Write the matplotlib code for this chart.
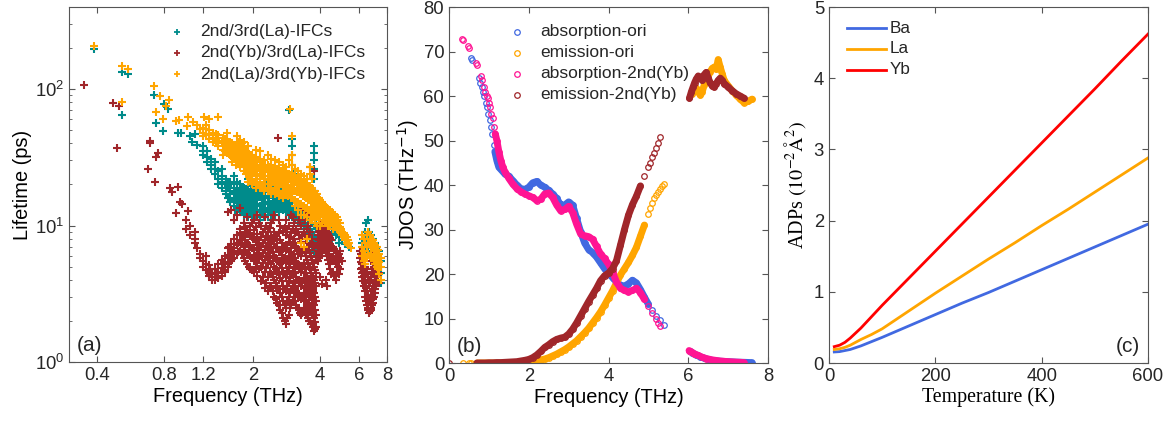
import numpy as np
import matplotlib
matplotlib.use("Agg")
import matplotlib.pyplot as plt
from matplotlib.ticker import FixedLocator, NullLocator, FixedFormatter, LogLocator

plt.rcParams['font.family'] = ['Liberation Sans', 'DejaVu Sans']
plt.rcParams['text.color'] = '#262626'

# ---------------- (a) lifetime scatter ----------------
# each entry: (frequency THz, [lifetimes ps])
teal_cols = [
    (0.39, [197]), (0.52, [133, 65]), (0.55, [130]), (0.72, [90]), (0.74, [56]),
    (0.79, [49]), (0.80, [78]), (0.83, [71]), (0.92, [48]), (0.95, [48]),
    (1.05, [45]), (1.07, [41]), (1.10, [47]), (1.13, [39]),
    (1.20, [35, 38, 33]), (1.25, [32, 29, 35]), (1.30, [28, 26, 31]),
    (1.35, [26, 24, 29]), (1.40, [22, 25, 20]), (1.46, [21, 23, 19, 26]),
    (1.52, [20, 22, 18, 17]), (1.55, [19.5, 16, 21]), (1.58, [19, 21, 17, 15]),
    (1.64, [18, 20, 16, 14, 23]), (1.67, [17.5, 15.5, 13]),
    (1.70, [17, 19, 15, 13.5, 21]), (1.76, [16, 18, 14, 12.5, 20]),
    (1.79, [16.5, 14.5, 13, 18.5]), (1.82, [15.5, 17.5, 13.5, 12, 19]),
    (1.86, [15, 13, 16.5, 18]), (1.90, [15, 17, 13, 11.5, 19.5, 22]),
    (1.94, [14.5, 12.5, 16, 17.5]), (1.98, [15, 16.5, 13.5, 12, 18, 20]),
    (2.02, [14.8, 13, 16.5, 19]), (2.06, [14.5, 16, 13, 11.5, 18.5, 21]),
    (2.10, [14, 12, 15.5, 17]), (2.15, [14, 16.5, 12.5, 11, 18, 20]),
    (2.19, [14.5, 12.5, 16, 17.5]), (2.24, [14.5, 16, 13, 11.5, 17.5, 19.5]),
    (2.28, [15, 13, 16.5, 18.5]), (2.33, [15, 16.5, 13.5, 12, 18, 21]),
    (2.37, [14.5, 12.5, 16, 18]), (2.42, [14.5, 17, 13, 11, 19, 22]),
    (2.47, [15, 13, 16.5, 19.5]), (2.52, [15, 16.5, 13.5, 12, 18.5]),
    (2.57, [15.5, 13.5, 17, 18.5]), (2.62, [15.5, 17, 14, 12.5, 19]),
    (2.67, [15.5, 13.5, 17, 19.5]), (2.72, [16, 18, 14.5, 13, 20]),
    (2.77, [15, 13.5, 16.5, 18.5]), (2.82, [15.5, 17.5, 14, 12.5, 19]),
    (2.87, [14.5, 13, 16, 18]), (2.92, [15, 17, 13.5, 12, 70]),
    (3.00, [14, 16, 12.5, 43, 38, 33, 28]), (3.05, [24, 20, 18]),
    (3.10, [13.5, 15, 12, 11]), (3.15, [13, 11.5, 14]), (3.20, [13, 14.5, 11.5, 10.5]),
    (3.25, [12.5, 11, 13.5]), (3.30, [12.5, 14, 11, 10]), (3.35, [12, 10.5, 13]),
    (3.40, [12, 13.5, 10.5, 9.5]), (3.45, [11.5, 10, 12.5]),
    (3.50, [11.5, 13, 10, 9, 8]), (3.55, [11, 9.5, 12]), (3.60, [11, 12.5, 9.5, 8.5, 7.5]),
    (3.65, [10.5, 9, 11.5]), (3.70, [10.5, 12, 9, 8, 7]),
    (3.75, [38, 34, 30, 26, 22, 18, 15]),
    (3.78, [10, 11.5, 8.5, 7.5, 6.5]), (3.86, [9.5, 11, 8, 7, 6.3]),
    (3.95, [9.8, 11, 8.5, 7.2, 6.4]), (4.10, [9.5, 10.5, 8.5, 7]),
    (4.25, [9.2, 10.2, 8.2]), (4.40, [9.0, 9.8, 8.0]), (4.55, [8.8, 9.6, 7.8]),
    (4.70, [8.5, 9.2]), (4.85, [8.2, 8.8, 7.5]), (5.00, [7.8, 8.3]),
    (5.20, [7.3, 7.8]), (5.40, [7.0]),
    (6.15, [7.5, 6.5]), (6.25, [8.0, 7.0, 6.0]), (6.35, [9.0, 7.5]),
    (6.45, [10.5, 8.0, 6.5]), (6.55, [11, 8.5, 7.0]), (6.65, [9.0, 7.5]),
    (6.75, [8.5, 7.0, 6.0]), (6.90, [8.0, 6.5]), (7.05, [7.5, 6.0]),
    (7.20, [7.0, 5.5]), (7.35, [6.5, 5.0]), (7.50, [5.5, 4.5, 3.8]),
]

red_cols = [
    (0.35, [107]), (0.47, [79]), (0.49, [37]), (0.50, [75]), (0.68, [26]),
    (0.69, [42, 40]), (0.73, [21]), (0.74, [32]), (0.75, [34]), (0.85, [19]),
    (0.87, [17.5]), (0.91, [12.4]), (0.92, [19.3]), (0.94, [14.8]), (0.96, [14.5]),
    (1.00, [11, 9.5]), (1.02, [12.7]), (1.05, [10, 8.5]), (1.10, [8, 7.5, 9]),
    (1.13, [6.8]), (1.16, [6.2, 5.8]), (1.20, [5.5, 5.0]), (1.23, [5.2, 4.7, 6.0]),
    (1.27, [4.6, 4.3, 5.1]), (1.28, [4.4, 4.8]), (1.31, [4.2, 4.5, 4.0]),
    (1.35, [4.0, 4.4, 4.8]), (1.38, [4.2, 4.5]), (1.40, [4.1, 4.6, 5.2]),
    (1.45, [4.3, 4.9, 5.6]), (1.48, [4.7, 5.4]), (1.50, [4.6, 5.2, 6.0]),
    (1.55, [5.0, 5.8, 6.8, 12.5]), (1.57, [5.3, 6.1, 7.0]), (1.60, [5.5, 6.3, 7.3, 13]),
    (1.62, [5.7, 6.5]), (1.65, [5.8, 6.8, 8.0, 11]), (1.70, [6.2, 7.2, 8.5, 12]),
    (1.72, [6.4, 7.5]), (1.76, [6.5, 7.8, 8.8, 9.5, 13.5]), (1.79, [6.2, 7.4, 8.5]),
    (1.82, [5.8, 7.0, 8.2, 10.5]), (1.85, [5.5, 6.6, 7.9, 9.7]),
    (1.88, [5.2, 6.3, 7.5, 9.0, 11.5]), (1.92, [5.0, 6.1, 7.2, 8.8]),
    (1.95, [4.8, 6.0, 7.0, 8.4, 10.0]), (1.99, [4.7, 5.8, 6.8, 8.2, 10.5]),
    (2.02, [4.6, 5.5, 6.6, 8.0, 9.3, 11]), (2.06, [5.0, 6.0, 7.6, 9.8]),
    (2.10, [4.3, 5.3, 6.2, 7.2, 8.7, 12]), (2.14, [4.8, 5.7, 6.6, 7.9, 10.5]),
    (2.18, [3.9, 5.0, 6.0, 7.0, 8.2, 10]), (2.22, [4.2, 5.3, 6.3, 7.4, 8.9]),
    (2.26, [3.5, 4.6, 5.6, 6.6, 7.8, 9.5, 11.5]), (2.30, [3.8, 4.9, 5.9, 7.1, 8.4, 10]),
    (2.34, [3.3, 4.2, 5.3, 6.3, 7.5, 9.0]), (2.38, [3.5, 4.6, 5.8, 7.0, 8.0, 9.6]),
    (2.42, [3.6, 4.4, 5.2, 6.8, 8.3, 10.5]), (2.46, [3.3, 4.2, 5.5, 6.4, 7.7, 11]),
    (2.50, [3.0, 4.0, 5.0, 6.0, 7.3, 9.0, 12]), (2.54, [2.9, 3.8, 4.8, 5.8, 7.0, 8.6]),
    (2.58, [2.7, 3.5, 4.6, 5.6, 6.8, 8.0]), (2.60, [44]),
    (2.62, [2.6, 3.4, 4.4, 5.4, 6.6, 8.8, 11]), (2.66, [2.4, 3.2, 4.1, 5.2, 6.4, 7.8, 10]),
    (2.70, [2.3, 3.0, 3.9, 4.9, 6.1, 7.4]), (2.74, [2.1, 2.8, 3.6, 4.6, 5.8, 7.0, 9.2]),
    (2.78, [2.0, 2.6, 3.4, 4.4, 5.6, 6.9, 9.6]),
    (2.82, [1.9, 2.5, 3.3, 4.2, 5.3, 6.6, 8.5, 11]), (2.86, [2.1, 2.8, 3.6, 4.6, 5.7, 7.2, 9]),
    (2.90, [2.2, 3.0, 3.9, 5.0, 6.0, 7.6, 10]), (2.94, [2.5, 3.2, 4.1, 5.2, 6.4, 8.2]),
    (2.98, [2.7, 3.4, 4.4, 5.5, 6.8, 9.0, 12]), (3.02, [2.8, 3.6, 4.6, 5.8, 7.4, 9.5, 11.5]),
    (3.06, [3.0, 3.8, 4.9, 6.2, 8.0, 10.5]), (3.10, [2.8, 3.5, 4.5, 5.8, 7.4, 8.8]),
    (3.14, [2.6, 3.3, 4.2, 5.4, 7.0, 9.5]), (3.18, [2.5, 3.2, 4.0, 5.2, 6.7, 9.0]),
    (3.22, [2.4, 3.1, 3.9, 5.0, 6.5, 8.5, 11]), (3.26, [2.3, 3.0, 3.8, 4.8, 6.3, 8.0, 10.5]),
    (3.30, [2.2, 2.9, 3.6, 4.6, 6.0, 7.6, 10, 13]), (3.34, [2.3, 3.0, 3.9, 5.0, 6.4, 8.4]),
    (3.38, [2.5, 3.2, 4.1, 5.3, 6.8, 9.0]), (3.42, [2.4, 3.0, 3.8, 4.8, 6.4, 8.6, 11]),
    (3.46, [2.3, 2.8, 3.5, 4.5, 6.0, 8.0, 12]), (3.50, [2.2, 2.7, 3.4, 4.3, 5.6, 7.4, 9.5]),
    (3.54, [2.1, 2.6, 3.2, 4.0, 5.2, 7.0, 10]), (3.58, [2.0, 2.5, 3.1, 3.9, 5.0, 6.6, 8.5]),
    (3.62, [2.0, 2.5, 3.0, 3.7, 4.8, 6.3, 9, 27]), (3.66, [1.9, 2.4, 3.0, 3.6, 4.5, 5.9, 7.5]),
    (3.70, [1.9, 2.3, 2.9, 3.5, 4.3, 5.6, 8]), (3.74, [1.8, 2.2, 2.7, 3.3, 4.1, 5.3, 7.2]),
    (3.78, [1.7, 2.1, 2.6, 3.2, 4.0, 5.0, 7, 25]), (3.81, [1.75, 1.95, 2.4, 3.0, 3.8, 4.7]),
    (3.84, [1.8, 2.2, 2.8, 3.6, 4.5, 6]), (3.92, [5.5, 6.5, 7.5, 8.6]),
    (3.96, [5.8, 6.8, 7.8, 8.9, 9.8]), (4.00, [6.0, 7.0, 8.0, 9.2, 10.3, 4.2]),
    (4.04, [6.3, 7.2, 8.2, 9.4]), (4.08, [6.5, 7.3, 8.3, 9.5, 3.7]),
    (4.12, [6.8, 7.6, 8.6, 9.6]), (4.16, [7.0, 7.8, 8.7, 9.7]),
    (4.20, [6.9, 7.7, 8.6, 9.5]), (4.24, [6.8, 7.6, 8.5, 9.4, 4.0]),
    (4.28, [6.4, 7.3, 8.2, 9.2]), (4.32, [6.0, 7.0, 8.0, 9.0, 3.6]),
    (4.36, [5.6, 6.6, 7.7, 8.7]), (4.40, [5.2, 6.2, 7.4, 8.4]),
    (4.45, [4.8, 5.9, 7.1, 8.1]), (4.50, [4.4, 5.6, 6.8, 7.8]), (4.55, [4.5, 5.7, 6.9]),
    (4.60, [4.6, 5.8, 7.0]), (4.65, [4.3, 5.5, 6.7]), (4.70, [4.0, 5.3, 6.5]),
    (4.75, [4.5, 5.6, 6.3]), (4.80, [5.0, 6.0]), (4.85, [4.4, 5.4, 6.2]),
    (4.90, [4.8, 5.8, 6.5]), (5.00, [5.5]),
    (6.05, [6.5, 5.8]), (6.10, [6.2, 5.4, 4.8]), (6.15, [6.0, 5.2, 4.5]),
    (6.20, [5.8, 4.9, 4.2]), (6.25, [5.5, 4.6, 3.9]), (6.30, [5.2, 4.3, 3.6]),
    (6.35, [5.0, 4.0, 3.3]), (6.40, [4.8, 3.8, 3.0]), (6.45, [4.6, 3.5, 2.8]),
    (6.50, [4.4, 3.3, 2.6]), (6.55, [4.2, 3.1, 2.5]), (6.60, [4.0, 2.9, 2.4]),
    (6.65, [3.8, 2.8, 2.3]), (6.70, [3.9, 2.9, 2.35]), (6.75, [4.0, 3.0, 2.4, 5.5]),
    (6.80, [4.2, 3.1, 2.5]), (6.85, [4.4, 3.3, 2.6, 6.0]), (6.90, [4.6, 3.4, 2.7]),
    (6.95, [4.8, 3.6, 2.9]), (7.00, [5.0, 3.8, 3.0]), (7.05, [5.2, 4.0, 3.2]),
    (7.10, [5.3, 4.2, 3.4]), (7.15, [5.5, 4.4, 3.6]), (7.20, [5.3, 4.3, 3.8]),
    (7.25, [5.0, 4.2]), (7.30, [4.8, 4.0]), (7.35, [4.5, 3.8]),
]

orange_cols = [
    (0.39, [207]), (0.52, [147, 80]), (0.55, [140]), (0.72, [105]), (0.74, [68]),
    (0.77, [89]), (0.79, [60]), (0.82, [75]), (0.84, [83]), (0.91, [58]), (0.93, [59]),
    (1.01, [54]), (1.03, [63]), (1.08, [57]), (1.13, [55]), (1.16, [51]), (1.21, [63]),
    (1.27, [60]), (1.40, [62]), (1.70, [45]), (2.93, [72]),
    (1.20, [48, 45, 52]), (1.24, [47, 51, 55]), (1.27, [46, 43, 50]), (1.33, [44, 41, 48]),
    (1.37, [43, 40, 47]), (1.40, [42, 38, 46]), (1.47, [40, 36, 44, 33]),
    (1.50, [39, 35, 43]), (1.54, [38, 34, 42, 48]), (1.58, [37, 33, 41]),
    (1.61, [36, 32, 40, 29]), (1.65, [35, 31, 39]), (1.68, [34, 31, 38, 28]),
    (1.72, [33, 30, 37, 41]), (1.75, [33, 30, 38, 42, 27]), (1.79, [32, 29, 36, 40]),
    (1.82, [32, 28, 36, 41, 25]), (1.86, [31, 27, 35, 24]),
    (1.90, [30, 27, 34, 38, 24, 21]), (1.94, [29, 26, 33, 22]),
    (1.98, [29, 26, 33, 23, 20]), (2.02, [28, 25, 31, 21]),
    (2.06, [28, 25, 32, 36, 22, 19]), (2.10, [27, 24, 30, 20]),
    (2.15, [27, 24, 31, 35, 21, 19]), (2.19, [26, 23, 29, 19.5]),
    (2.24, [26, 23, 30, 20, 18]), (2.28, [25, 22, 28, 19]),
    (2.33, [25, 22, 28, 33, 20, 18]), (2.37, [24.5, 21.5, 27, 18.5]),
    (2.42, [25, 22, 28, 31, 19, 17]), (2.47, [24, 21, 26, 18]),
    (2.52, [24, 21, 27, 30, 19, 17]), (2.57, [23.5, 20.5, 26, 17.5]),
    (2.62, [23, 20.5, 26, 29, 18, 16.5]), (2.67, [22.5, 20, 25, 17]),
    (2.72, [22.5, 20, 25, 28, 18, 16]), (2.77, [22, 19.5, 24.5, 17]),
    (2.82, [22, 19.5, 25, 27, 17.5]), (2.87, [21.5, 19, 24, 16.5]),
    (2.92, [22, 19, 24, 30, 17]), (2.96, [21, 18.5, 23.5, 16]),
    (3.00, [21, 18.5, 24, 28, 33, 16, 45]), (3.05, [20.5, 18, 23, 15.5]),
    (3.10, [21, 18, 23, 26, 15.5, 14]), (3.15, [20, 17.5, 22.5, 15]),
    (3.20, [20, 17.5, 22, 25, 15, 13]), (3.25, [19.5, 17, 22, 14.5]),
    (3.30, [19, 17, 21, 24, 14.5, 12, 7.5]), (3.35, [19, 16.5, 21, 14]),
    (3.40, [18.5, 16.5, 21, 23, 14, 12, 7]), (3.45, [18, 16, 20, 13.5]),
    (3.50, [18, 16, 20, 22, 13.5, 11.5, 8]), (3.55, [17.5, 15.5, 19.5, 13]),
    (3.60, [17.5, 15.5, 19.5, 27, 24, 13, 11]), (3.65, [17, 15, 19, 12.5]),
    (3.70, [17, 15, 19, 22, 13, 11]), (3.75, [16, 14.5, 18, 12]),
    (3.80, [16, 14.5, 18, 12.5, 10.5]), (3.85, [15.5, 14, 17, 11.5]),
    (3.90, [15, 13.5, 17, 12, 10]), (3.95, [14.5, 13, 16, 11]),
    (4.00, [14, 13, 15.5, 11.5, 10]), (4.07, [13.5, 12.5, 15, 10.5]),
    (4.15, [13, 12, 14.5, 11]), (4.22, [13, 12, 14, 10.5]),
    (4.30, [12.5, 11.5, 13.5, 10.5]), (4.37, [12, 11, 13, 10]),
    (4.45, [12, 11, 13, 10]), (4.52, [11.5, 10.5, 12.5]), (4.60, [11, 10.5, 12, 9.5]),
    (4.67, [11, 10, 12]), (4.75, [10.5, 9.8, 11.5]), (4.82, [10, 9.3, 11]),
    (4.90, [9.8, 9, 10.5]), (4.97, [9.4, 8.8]), (5.05, [9, 8.5]), (5.12, [8.8, 8.2]),
    (5.20, [8.5, 7.8]), (5.27, [8.2, 7.5]), (5.35, [7.8, 7.2]), (5.42, [7.4]),
    (5.50, [6.8]),
    (6.20, [8.5, 7.0, 6.0]), (6.30, [8.0, 6.5, 5.5]), (6.40, [7.5, 6.0, 5.2]),
    (6.50, [8.5, 7.0, 5.8]), (6.60, [9.0, 7.5, 6.2]), (6.70, [8.5, 7.2, 6.0]),
    (6.80, [8.0, 7.0, 6.0]), (6.90, [7.8, 6.8, 5.8]), (7.00, [7.5, 6.5, 5.5]),
    (7.10, [7.2, 6.2, 5.2]), (7.20, [7.0, 6.0, 5.0]), (7.30, [6.6, 5.6, 4.8]),
    (7.40, [6.2, 5.4, 4.4]), (7.50, [5.8, 5.0, 4.0]),
]

a_labels = ['2nd/3rd(La)-IFCs', '2nd(Yb)/3rd(La)-IFCs', '2nd(La)/3rd(Yb)-IFCs']
a_xticks = [0.4, 0.8, 1.2, 2, 4, 6, 8]

# ---------------- (b) JDOS ----------------
abs_ori_f = [0.55, 0.58, 0.75, 0.78, 0.82, 0.85, 0.88, 0.92, 0.95, 0.98, 1.02, 1.05, 1.08, 1.12, 1.15,
             1.2, 1.25, 1.3, 1.4, 1.5, 1.6, 1.7, 1.8, 1.9, 2.0, 2.1, 2.2, 2.3, 2.4, 2.5, 2.6, 2.7, 2.8, 2.9,
             3.0, 3.1, 3.2, 3.3, 3.4, 3.5, 3.6, 3.7, 3.8, 3.9, 4.0, 4.1, 4.2, 4.3, 4.4, 4.5, 4.6, 4.7, 4.8,
             4.9, 5.0, 5.1, 5.2, 5.3, 5.4,
             6.05, 6.1, 6.2, 6.3, 6.4, 6.5, 6.6, 6.8, 7.0, 7.2, 7.4, 7.55, 7.6]
abs_ori_j = [68.5, 68, 64, 63, 62, 61, 60, 58.5, 57.5, 56, 54.5, 53, 51.5, 49, 47.5,
             45.5, 44, 43.5, 42.5, 42, 41, 40, 39.2, 39, 39.5, 40.5, 40.8, 40, 39.5, 38.8, 38, 37, 35.5, 35.5,
             36.2, 35.5, 32.5, 29.5, 27, 25.5, 24.8, 23.8, 22.5, 21.2, 20.2, 19.2, 18.2, 17.5, 17.3, 17.8, 18.6,
             18.0, 16.5, 14.8, 13.2, 11.8, 10.6, 9.6, 8.6,
             2.6, 2.3, 1.8, 1.4, 1.1, 0.8, 0.6, 0.4, 0.3, 0.2, 0.15, 0.1, 0.1]

emi_ori_f = [0.35, 0.5, 0.55, 0.7, 0.8, 0.9, 1.0, 1.1, 1.2, 1.3, 1.4, 1.5, 1.6, 1.7, 1.8, 1.9,
             2.0, 2.1, 2.2, 2.3, 2.4, 2.5, 2.6, 2.7, 2.8, 2.9, 3.0, 3.1, 3.2, 3.3, 3.4, 3.5, 3.6, 3.7,
             3.8, 3.9, 4.0, 4.1, 4.2, 4.3, 4.4, 4.5, 4.6, 4.7, 4.8, 4.9, 5.0, 5.05, 5.1, 5.15, 5.2,
             5.25, 5.3, 5.35, 5.4,
             6.1, 6.15, 6.2, 6.25, 6.3, 6.35, 6.4, 6.45, 6.5, 6.55, 6.6, 6.65, 6.7, 6.75, 6.8, 6.85,
             6.9, 7.0, 7.1, 7.2, 7.3, 7.4, 7.5, 7.6]
emi_ori_j = [0, 0, 0, 0, 0, 0, 0, 0, 0, 0, 0.05, 0.05, 0.1, 0.1, 0.15, 0.2,
             0.25, 0.35, 0.5, 0.7, 0.9, 1.2, 1.6, 2.0, 2.5, 3.0, 3.6, 4.3, 5.0, 5.9, 6.8, 7.8, 9.0, 10.2,
             11.5, 13.0, 14.6, 16.2, 18.0, 19.8, 21.2, 22.6, 24.2, 26.0, 28.5, 31.0, 33.5, 34.8, 36, 37,
             37.8, 38.5, 39.2, 39.8, 40.3,
             60.5, 61.5, 61.8, 61, 60.2, 61, 62.5, 63.5, 64.5, 65.5, 66.2, 66.5, 66, 68.2, 66.5, 65,
             63.5, 62.3, 61.2, 60.2, 59.3, 58.5, 58.8, 59.3]

abs_yb_f = [0.33, 0.36, 0.48, 0.5, 0.68, 0.7, 0.8, 0.82, 0.88, 0.9, 0.95, 0.98, 1.0, 1.03, 1.06, 1.1,
            1.13, 1.16, 1.2, 1.25, 1.3, 1.35, 1.4, 1.5, 1.6, 1.7, 1.8, 1.9, 2.0, 2.1, 2.2, 2.3, 2.4,
            2.5, 2.6, 2.7, 2.8, 2.9, 3.0, 3.1, 3.2, 3.3, 3.4, 3.5, 3.6, 3.7, 3.8, 3.9, 4.0, 4.1, 4.2,
            4.3, 4.4, 4.5, 4.6, 4.7, 4.8, 4.9, 5.0, 5.1, 5.2, 5.25, 5.3,
            6.02, 6.08, 6.15, 6.25, 6.35, 6.45, 6.6, 6.8, 7.0, 7.2, 7.4]
abs_yb_j = [72.7, 72.5, 71.3, 70.8, 67.5, 67, 64.5, 63.5, 62, 61, 60, 59.5, 58.5, 57.5, 56, 55,
            53, 51.5, 50, 47.5, 45.5, 44, 43, 41.5, 40.2, 39.2, 38.5, 38, 37.6, 37.2, 36.5, 36.8, 38,
            38.2, 37.2, 35.5, 34.2, 34.5, 35.2, 33.8, 31.2, 29, 28.6, 28.4, 27.8, 26.2, 24.5, 23.5,
            22.2, 20.5, 18.2, 16.8, 16.3, 16.0, 16.3, 16.8, 15.8, 14.3, 12.8, 11.3, 9.8, 9.0, 8.3,
            2.8, 2.5, 2.1, 1.7, 1.3, 1.0, 0.7, 0.45, 0.3, 0.2, 0.1]

emi_yb_f = [0.0, 0.7, 0.8, 0.9, 1.0, 1.1, 1.2, 1.3, 1.4, 1.5, 1.6, 1.7, 1.8, 1.9, 2.0, 2.1, 2.2,
            2.3, 2.4, 2.5, 2.6, 2.7, 2.8, 2.9, 3.0, 3.1, 3.2, 3.3, 3.4, 3.5, 3.6, 3.7, 3.8, 3.9, 4.0,
            4.1, 4.2, 4.3, 4.4, 4.5, 4.6, 4.7, 4.8, 4.9, 5.0, 5.05, 5.1, 5.15, 5.2, 5.25, 5.3,
            6.03, 6.08, 6.12, 6.16, 6.2, 6.25, 6.3, 6.35, 6.4, 6.45, 6.5, 6.55, 6.6, 6.65, 6.7,
            6.75, 6.8, 6.85, 6.9, 7.0, 7.1, 7.2, 7.3, 7.4]
emi_yb_j = [0, 0, 0, 0, 0.05, 0.05, 0.1, 0.1, 0.15, 0.2, 0.25, 0.3, 0.45, 0.6, 0.8, 1.2, 1.8,
            2.6, 3.5, 4.1, 4.8, 5.3, 5.6, 5.8, 6.5, 7.6, 9.0, 10.6, 12.2, 13.8, 15.3, 16.8, 18.5, 19.6,
            20.2, 21.2, 23.0, 26.5, 30.0, 33.2, 35.6, 37.5, 39.8, 42.0, 44.0, 45.0, 46.2, 47.2, 48.3,
            49.4, 50.8,
            59.5, 61, 62, 63, 63.8, 64.5, 64.2, 63.5, 64.8, 65.3, 64, 63, 62.3, 62, 62.8, 63.5, 64,
            63.5, 62.8, 62, 61.2, 60.5, 60, 59.5]

b_labels = ['absorption-ori', 'emission-ori', 'absorption-2nd(Yb)', 'emission-2nd(Yb)']

# ---------------- (c) ADPs ----------------
temp = [10, 20, 30, 40, 50, 60, 80, 100, 150, 200, 250, 300, 350, 400, 450, 500, 550, 600]
adp_ba = [0.155, 0.16, 0.175, 0.19, 0.215, 0.24, 0.30, 0.36, 0.52, 0.68, 0.84, 0.99, 1.15, 1.31, 1.47,
          1.63, 1.79, 1.95]
adp_la = [0.19, 0.20, 0.22, 0.25, 0.29, 0.33, 0.40, 0.48, 0.73, 0.98, 1.22, 1.46, 1.69, 1.93, 2.16,
          2.40, 2.64, 2.88]
adp_yb = [0.23, 0.25, 0.29, 0.35, 0.42, 0.49, 0.65, 0.81, 1.19, 1.57, 1.95, 2.33, 2.71, 3.09, 3.47,
          3.85, 4.24, 4.62]
c_labels = ['Ba', 'La', 'Yb']


def flatten(cols):
    xs, ys = [], []
    for f, vals in cols:
        for v in vals:
            xs.append(f)
            ys.append(v)
    return np.array(xs), np.array(ys)


def style_axes(ax):
    for s in ax.spines.values():
        s.set_color('#555555')
        s.set_linewidth(0.8)
    ax.tick_params(which='both', direction='in', top=True, right=True, color='#555555',
                   labelsize=13.3, labelcolor='#262626')
    ax.tick_params(which='major', length=4)
    ax.tick_params(which='minor', length=2)


def key(ax, labels, styles, x_mark, x_text, y0, dy, fontsize, line=None):
    # legend drawn by hand so that rows are evenly spaced like the original
    tr = ax.transAxes
    for i, (lab, st) in enumerate(zip(labels, styles)):
        y = y0 - i * dy
        if line is None:
            ax.plot([x_mark], [y], transform=tr, clip_on=False, **st)
        else:
            ax.plot(line, [y, y], transform=tr, clip_on=False, **st)
        ax.text(x_text, y, lab, transform=tr, fontsize=fontsize, va='center', ha='left')


fig = plt.figure(figsize=(11.76, 4.22), dpi=100)
axa = fig.add_axes([0.0587, 0.1422, 0.2704, 0.8412])
axb = fig.add_axes([0.3818, 0.1398, 0.2713, 0.8436])
axc = fig.add_axes([0.7049, 0.1398, 0.2713, 0.8436])

# (a)
pm = dict(ls='none', marker='+', ms=5.5, mew=1.5)
colors_a = ['#008b8b', '#a0262a', '#ffa500']
for cols, c in zip([teal_cols, red_cols, orange_cols], colors_a):
    x, y = flatten(cols)
    axa.plot(x, y, color=c, **pm)
axa.set_xscale('log')
axa.set_yscale('log')
axa.set_xlim(0.3, 8)
axa.set_ylim(1, 400)
axa.xaxis.set_major_locator(FixedLocator(a_xticks))
axa.xaxis.set_major_formatter(FixedFormatter([f'{t:g}' for t in a_xticks]))
axa.xaxis.set_minor_locator(NullLocator())
axa.yaxis.set_major_locator(LogLocator(base=10, numticks=5))
axa.yaxis.set_minor_locator(LogLocator(base=10, subs=np.arange(2, 10), numticks=10))
style_axes(axa)
axa.set_xlabel('Frequency (THz)', fontsize=14.4, labelpad=2)
axa.set_ylabel('Lifetime (ps)', fontsize=14.4, labelpad=2)
axa.text(0.025, 0.03, '(a)', transform=axa.transAxes, fontsize=15)
key(axa, a_labels, [dict(color=c, ls='none', marker='+', ms=4.5, mew=1.3) for c in colors_a],
    0.340, 0.412, 0.930, 0.0595, 12.5)

# (b)
colors_b = ['#4169e1', '#ffa500', '#ff1493', '#a0262a']
series_b = [(abs_ori_f, abs_ori_j), (emi_ori_f, emi_ori_j), (abs_yb_f, abs_yb_j), (emi_yb_f, emi_yb_j)]
band_ranges = [(1.15, 5.0), (0.7, 4.9), (1.15, 4.9), (0.7, 4.8)]
cm = dict(ls='none', marker='o', ms=4, mfc='none', mew=0.9)
for (f, j), c, (lo, hi) in zip(series_b, colors_b, band_ranges):
    f = np.array(f)
    j = np.array(j)
    axb.plot(f, j, color=c, **cm)
    m = (f >= lo) & (f <= hi)
    axb.plot(f[m], j[m], color=c, lw=5, solid_capstyle='round', solid_joinstyle='round')
    hi_part = f > 6
    axb.plot(f[hi_part], j[hi_part], color=c, lw=5, solid_capstyle='round', solid_joinstyle='round')
axb.set_xlim(0, 8)
axb.set_ylim(0, 80)
axb.set_xticks([0, 2, 4, 6, 8])
axb.set_yticks(range(0, 81, 10))
style_axes(axb)
axb.set_xlabel('Frequency (THz)', fontsize=14.4, labelpad=2)
axb.set_ylabel('JDOS (THz$^{-1}$)', fontsize=14.4, labelpad=2)
axb.text(0.025, 0.03, '(b)', transform=axb.transAxes, fontsize=15)
key(axb, b_labels, [dict(color=c, **cm) for c in colors_b], 0.213, 0.285, 0.930, 0.059, 12.5)

# (c)
colors_c = ['#4169e1', '#ffa500', '#ff0000']
for y, c in zip([adp_ba, adp_la, adp_yb], colors_c):
    axc.plot(temp, y, color=c, lw=2)
axc.set_xlim(0, 600)
axc.set_ylim(0, 5)
axc.set_xticks([0, 200, 400, 600])
axc.set_yticks(range(0, 6))
style_axes(axc)
axc.set_xlabel('Temperature (K)', fontsize=14.3, family='Liberation Serif', labelpad=2)
axc.set_ylabel(r'ADPs $(10^{-2}\mathrm{\AA}^{2})$', fontsize=14.5, family='Liberation Serif',
               math_fontfamily='stix', labelpad=4)
axc.text(0.975, 0.03, '(c)', transform=axc.transAxes, fontsize=15, ha='right')
key(axc, c_labels, [dict(color=c, lw=2) for c in colors_c], None, 0.191, 0.941, 0.0585, 12.3,
    line=[0.056, 0.179])

fig.savefig('out.png', dpi=100)
